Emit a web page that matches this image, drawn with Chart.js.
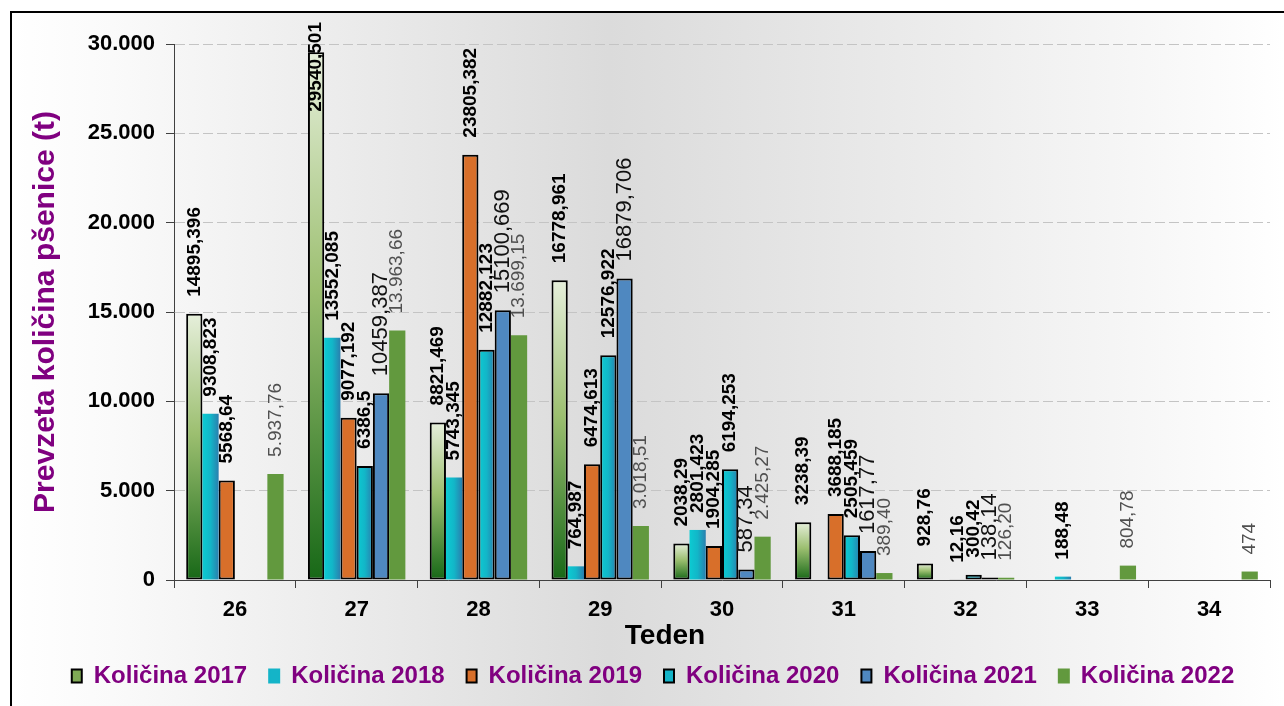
<!DOCTYPE html>
<html><head><meta charset="utf-8">
<script src="https://cdn.jsdelivr.net/npm/chart.js@4/dist/chart.umd.min.js"></script>
<style>html,body{margin:0;padding:0;background:#fff}canvas{display:block}</style>
</head><body>
<canvas id="c" width="1284" height="706"></canvas>
<script>
// ---- data ----
const weeks = ['26', '27', '28', '29', '30', '31', '32', '33', '34'];
const seriesNames = ['Količina 2017', 'Količina 2018', 'Količina 2019', 'Količina 2020', 'Količina 2021', 'Količina 2022'];
const kol2017 = [14895.396, 29540.501, 8821.469, 16778.961, 2038.29, 3238.39, 928.76, null, null];
const kol2018 = [9308.823, 13552.085, 5743.345, 764.987, 2801.423, null, null, 188.48, null];
const kol2019 = [5568.64, 9077.192, 23805.382, 6474.613, 1904.285, 3688.185, 12.16, null, null];
const kol2020 = [null, 6386.5, 12882.123, 12576.922, 6194.253, 2505.459, 300.42, null, null];
const kol2021 = [null, 10459.387, 15100.669, 16879.706, 587.34, 1617.77, 138.14, null, null];
const kol2022 = [5937.76, 13963.66, 13699.15, 3018.51, 2425.27, 389.40, 126.20, 804.78, 474];
const yMin = 0, yMax = 30000, yStep = 5000;
const yTitle = 'Prevzeta količina pšenice (t)';
const xTitle = 'Teden';

// ---- styling ----
const FAM = '"Liberation Sans", Arial, sans-serif';
Chart.defaults.font.family = FAM;

function plainFmt(v) { return String(v).replace('.', ','); }
function thouFmt(v) {
  const s = Number.isInteger(v) ? String(v) : v.toFixed(2);
  let [i, d] = s.split('.');
  i = i.replace(/\B(?=(\d{3})+(?!\d))/g, '.');
  return d ? i + ',' + d : i;
}
const labelStyles = [
  { font: 'bold 19px ' + FAM, color: '#000', fmt: plainFmt },
  { font: 'bold 19px ' + FAM, color: '#000', fmt: plainFmt },
  { font: 'bold 19px ' + FAM, color: '#000', fmt: plainFmt },
  { font: 'bold 19px ' + FAM, color: '#000', fmt: plainFmt },
  { font: '22px ' + FAM, color: '#111', fmt: plainFmt },
  { font: '19px ' + FAM, color: '#505050', fmt: thouFmt }
];

function barBox(c) {
  if (c.type !== 'data' || c.raw == null) return null;
  const ch = c.chart, xs = ch.scales.x, ys = ch.scales.y;
  if (!xs || !ys) return null;
  const cw = xs.width / weeks.length;
  const bw = cw * 0.8 / seriesNames.length;
  const cx = xs.getPixelForValue(c.dataIndex);
  const x0 = cx - bw * seriesNames.length / 2 + c.datasetIndex * bw;
  const top = ys.getPixelForValue(c.raw), bot = ys.getPixelForValue(0);
  if (!(bw > 0) || !(bot > top) || !isFinite(top)) return null;
  return { x0, x1: x0 + bw, top, bot };
}
function greenVert(c) {
  const b = barBox(c);
  if (!b) return '#7fa955';
  const g = c.chart.ctx.createLinearGradient(0, b.top, 0, b.bot);
  g.addColorStop(0, '#e6efdb');
  g.addColorStop(0.45, '#9cbf70');
  g.addColorStop(1, '#176817');
  return g;
}
function cyanHoriz(c) {
  const b = barBox(c);
  if (!b) return '#12b4c6';
  const g = c.chart.ctx.createLinearGradient(b.x0, 0, b.x1, 0);
  g.addColorStop(0, '#0ccbd2');
  g.addColorStop(0.5, '#12b6c8');
  g.addColorStop(1, '#2a7fae');
  return g;
}

const legendFill = ['#7fa955', '#14b4c8', '#d86f2a', '#14b4c8', '#4f88c0', '#62993e'];
const legendStroke = ['#000', '#14b4c8', '#000', '#000', '#000', '#62993e'];

const bgPlugin = {
  id: 'bg',
  beforeDraw(chart) {
    const ctx = chart.ctx, W = chart.width, H = chart.height;
    ctx.save();
    ctx.fillStyle = '#fff';
    ctx.fillRect(0, 0, W, H);
    const g = ctx.createLinearGradient(10, 0, W, 0);
    g.addColorStop(0, '#ffffff');
    g.addColorStop(0.08, '#fafafa');
    g.addColorStop(0.47, '#dbdbdb');
    g.addColorStop(0.88, '#f6f6f6');
    g.addColorStop(1, '#ffffff');
    ctx.fillStyle = g;
    ctx.fillRect(10, 12, W, H);
    ctx.strokeStyle = '#000';
    ctx.lineWidth = 2;
    ctx.strokeRect(11, 12, W + 20, H + 20);
    ctx.restore();
  },
  afterDraw(chart) {
    const ctx = chart.ctx;
    ctx.save();
    ctx.font = 'bold 28px ' + FAM;
    ctx.fillStyle = '#000';
    ctx.textAlign = 'center';
    ctx.textBaseline = 'middle';
    ctx.fillText(xTitle, chart.width / 2 + 23, 636);
    ctx.restore();
  }
};

const dataLabelPlugin = {
  id: 'dataLabels',
  afterDatasetsDraw(chart) {
    const ctx = chart.ctx;
    chart.data.datasets.forEach((ds, i) => {
      const meta = chart.getDatasetMeta(i);
      const st = labelStyles[i];
      meta.data.forEach((el, j) => {
        const v = ds.data[j];
        if (v == null) return;
        const text = st.fmt(v);
        ctx.save();
        ctx.font = st.font;
        ctx.fillStyle = st.color;
        const w = ctx.measureText(text).width;
        let y = el.y - 17;
        if (y - w < 22) y = 22 + w;
        ctx.translate(el.x, y);
        ctx.rotate(-Math.PI / 2);
        ctx.textAlign = 'left';
        ctx.textBaseline = 'middle';
        ctx.fillText(text, 0, 0);
        ctx.restore();
      });
    });
  }
};

const seriesData = [kol2017, kol2018, kol2019, kol2020, kol2021, kol2022];
const seriesBg = [greenVert, cyanHoriz, '#d86f2a', cyanHoriz, '#4f88c0', '#62993e'];
const seriesBorder = [2, 0, 2, 2, 2, 0];

new Chart(document.getElementById('c'), {
  type: 'bar',
  data: {
    labels: weeks,
    datasets: seriesNames.map((n, i) => ({
      label: n,
      data: seriesData[i],
      backgroundColor: seriesBg[i],
      borderColor: '#000',
      borderWidth: seriesBorder[i],
      borderSkipped: false,
      categoryPercentage: 0.8,
      barPercentage: 1.0
    }))
  },
  options: {
    responsive: false,
    animation: false,
    devicePixelRatio: 1,
    layout: { padding: { left: 36, right: 14, top: 44, bottom: 8 } },
    plugins: {
      tooltip: { enabled: false },
      legend: {
        position: 'bottom',
        labels: {
          boxWidth: 10, boxHeight: 13, padding: 22,
          color: '#800080',
          font: { size: 24, weight: 'bold' },
          generateLabels(chart) {
            return chart.data.datasets.map((ds, i) => ({
              text: ds.label, fillStyle: legendFill[i], strokeStyle: legendStroke[i],
              lineWidth: 2, hidden: false, datasetIndex: i, fontColor: '#800080'
            }));
          }
        }
      }
    },
    scales: {
      x: {
        afterFit(s) { s.height = 62; },
        grid: { display: true, drawOnChartArea: false, drawTicks: true, tickLength: 8, tickColor: '#404040', offset: true },
        border: { display: true, color: '#404040', width: 1 },
        ticks: { color: '#000', padding: 9, font: { size: 22, weight: 'bold' } }
      },
      y: {
        min: yMin, max: yMax,
        afterFit(s) { s.width = 138; },
        grid: { color: '#c4c4c4', lineWidth: 1, tickLength: 8, tickColor: '#404040', tickBorderDash: [] },
        border: { display: true, color: '#404040', width: 1, dash: [10, 4] },
        ticks: {
          stepSize: yStep, padding: 11, color: '#000',
          font: { size: 22, weight: 'bold' },
          callback: (v) => String(v).replace(/\B(?=(\d{3})+(?!\d))/g, '.')
        },
        title: {
          display: true, text: yTitle, color: '#800080',
          font: { size: 30, weight: 'bold' },
          padding: { top: -8, bottom: 0 }
        }
      }
    }
  },
  plugins: [bgPlugin, dataLabelPlugin]
});
</script>
</body></html>
